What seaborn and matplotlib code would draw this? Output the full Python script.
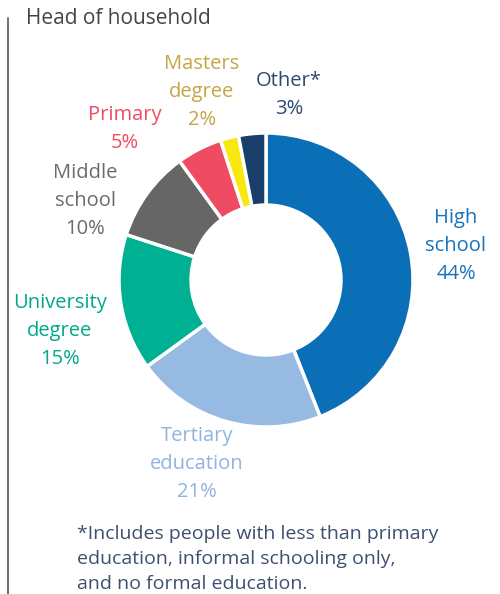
import matplotlib
matplotlib.use("Agg")
import matplotlib.pyplot as plt
import seaborn as sns

# Education level of head of household (%)
categories = ["High\nschool", "Tertiary\neducation", "University\ndegree",
              "Middle\nschool", "Primary", "Masters\ndegree", "Other*"]
shares = [44, 21, 15, 10, 5, 2, 3]

wedge_colors = ["#0b6fb8", "#97bae3", "#00b092", "#666666", "#ef4b63", "#f7e80d", "#173f6a"]
label_colors = ["#1a73ba", "#90b4e0", "#00a88a", "#6b6b6b", "#ef4b63", "#c4a645", "#2b4a72"]
# label anchor points (pixel coords, top-left origin) for each category's text block
label_xy = [(456, 246), (197, 464), (60, 331), (85, 201), (125, 129), (202, 92), (289, 95)]

subtitle = "Head of household"
footnote = ("*Includes people with less than primary\n"
            "education, informal schooling only,\n"
            "and no formal education.")

sns.set_theme(style="white")
plt.rcParams["font.family"] = ["Open Sans", "DejaVu Sans"]

W, H = 500, 594
fig = plt.figure(figsize=(W / 100, H / 100), dpi=100)
ax = fig.add_axes([0, 0, 1, 1])

cx, cy, r = 266, H - 280, 147
ax.pie(shares, colors=wedge_colors, startangle=90, counterclock=False,
       center=(cx, cy), radius=r, frame=True,
       wedgeprops=dict(width=r * 0.49, edgecolor="white", linewidth=2.5))
ax.set_xlim(0, W)
ax.set_ylim(0, H)
ax.set_aspect("equal")
ax.axis("off")

for name, val, col, (x, y) in zip(categories, shares, label_colors, label_xy):
    ax.text(x, H - y, f"{name}\n{val}%", ha="center", va="center",
            color=col, fontsize=14.5, linespacing=1.56)

ax.text(26, H - 18, subtitle, ha="left", va="center", color="#444444", fontsize=15)
ax.text(77, H - 559, footnote, ha="left", va="center", color="#3d5070",
        fontsize=14, linespacing=1.5)

# vertical rule along the left edge
ax.plot([8, 8], [0, H - 18], color="#555555", linewidth=1.2)

fig.savefig("out.png", dpi=100)
